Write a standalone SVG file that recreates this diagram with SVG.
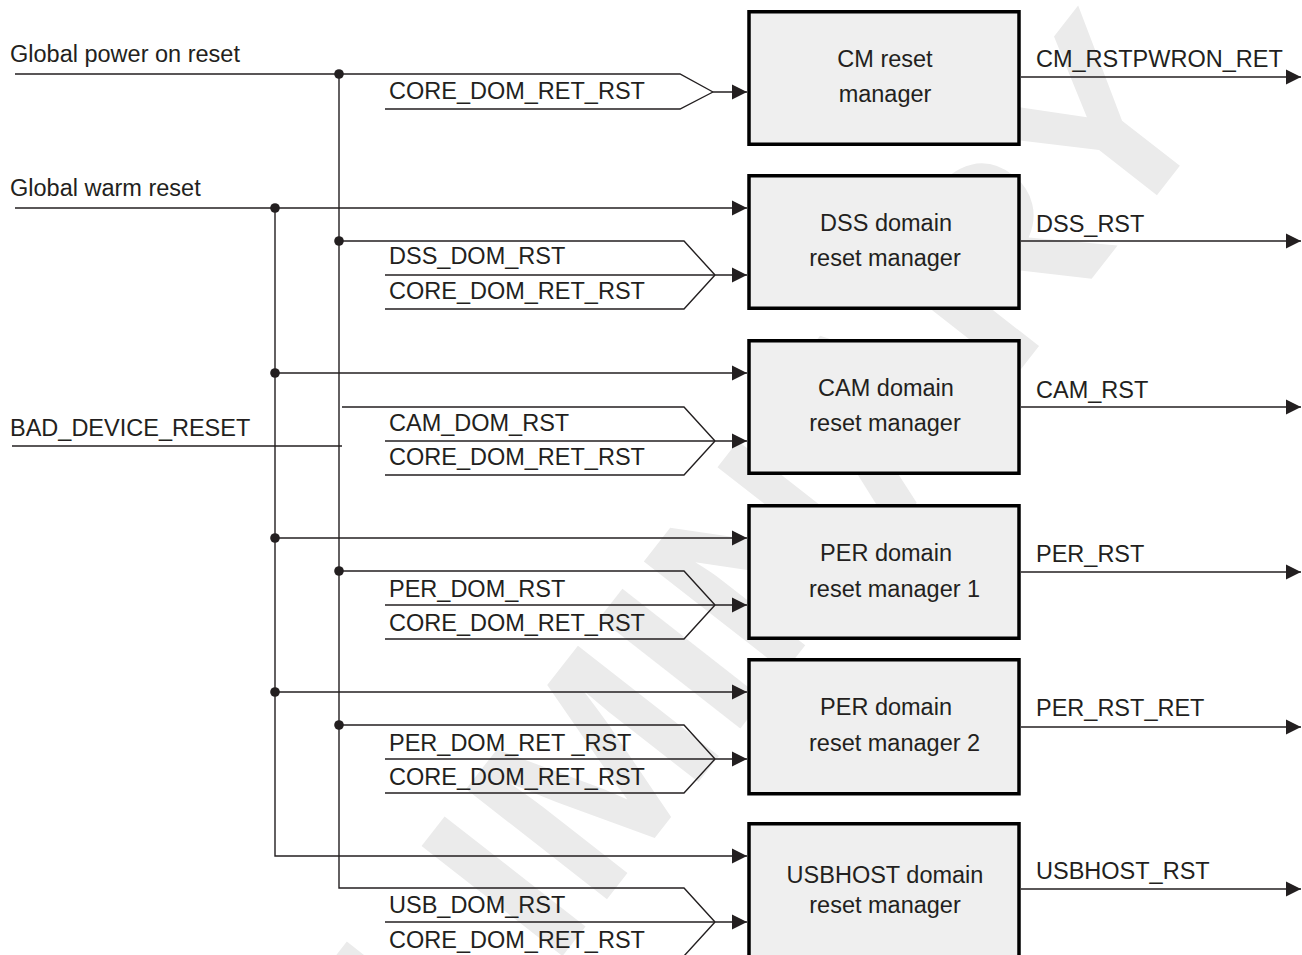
<svg xmlns="http://www.w3.org/2000/svg" width="1302" height="955" viewBox="0 0 1302 955">
<style>
text{font-family:"Liberation Sans",Arial,sans-serif;font-size:23.5px;fill:#231f20}
.c{text-anchor:middle}
.w{font-weight:bold;font-size:260px;fill:#ebebeb;text-anchor:middle}
.ln{fill:none;stroke:#231f20;stroke-width:1.4}
.ar{marker-end:url(#ah)}
.box{fill:#efefef;stroke:#000;stroke-width:3.5}
.dot{fill:#231f20}
</style>
<defs>
<marker id="ah" markerUnits="userSpaceOnUse" markerWidth="15" markerHeight="16" viewBox="0 0 15 16" refX="15" refY="8" orient="auto">
<path d="M0,0.5 L15,8 L0,15.5 z" fill="#231f20"/>
</marker>
</defs>
<rect width="1302" height="955" fill="#fff"/>
<g id="watermark">
<text class="w" transform="translate(600,757) rotate(-52)" x="0" y="93">PRELIMINARY</text>
</g>
<g id="connectors">
<polyline class="ln" points="15,74 680,74 713,92"/>
<polyline class="ln" points="385,109 680,109 713,92"/>
<line class="ln ar" x1="713" y1="92" x2="747" y2="92"/>
<polyline class="ln" points="339,74 339,888 684,888 715,922"/>
<line class="ln ar" x1="15" y1="208" x2="747" y2="208"/>
<polyline class="ln ar" points="275,208 275,856 747,856"/>
<line class="ln ar" x1="275" y1="373" x2="747" y2="373"/>
<line class="ln ar" x1="275" y1="538" x2="747" y2="538"/>
<line class="ln ar" x1="275" y1="692" x2="747" y2="692"/>
<polyline class="ln" points="339,241 684,241 715,275"/>
<polyline class="ln" points="385,309 684,309 715,275"/>
<line class="ln ar" x1="385" y1="275" x2="747" y2="275"/>
<polyline class="ln" points="342,407 684,407 715,441"/>
<polyline class="ln" points="385,475 684,475 715,441"/>
<line class="ln ar" x1="385" y1="441" x2="747" y2="441"/>
<line class="ln" x1="12" y1="446" x2="342" y2="446"/>
<polyline class="ln" points="339,571 684,571 715,605"/>
<polyline class="ln" points="385,639 684,639 715,605"/>
<line class="ln ar" x1="385" y1="605" x2="747" y2="605"/>
<polyline class="ln" points="339,725 684,725 715,759"/>
<polyline class="ln" points="385,793 684,793 715,759"/>
<line class="ln ar" x1="385" y1="759" x2="747" y2="759"/>
<polyline class="ln" points="385,956 684,956 715,922"/>
<line class="ln ar" x1="385" y1="922" x2="747" y2="922"/>
<line class="ln ar" x1="1021" y1="77" x2="1301" y2="77"/>
<line class="ln ar" x1="1021" y1="241" x2="1301" y2="241"/>
<line class="ln ar" x1="1021" y1="407" x2="1301" y2="407"/>
<line class="ln ar" x1="1021" y1="572" x2="1301" y2="572"/>
<line class="ln ar" x1="1021" y1="727" x2="1301" y2="727"/>
<line class="ln ar" x1="1021" y1="889" x2="1301" y2="889"/>
<circle class="dot" cx="339" cy="74" r="4.8"/>
<circle class="dot" cx="275" cy="208" r="4.8"/>
<circle class="dot" cx="339" cy="241" r="4.8"/>
<circle class="dot" cx="275" cy="373" r="4.8"/>
<circle class="dot" cx="275" cy="538" r="4.8"/>
<circle class="dot" cx="339" cy="571" r="4.8"/>
<circle class="dot" cx="275" cy="692" r="4.8"/>
<circle class="dot" cx="339" cy="725" r="4.8"/>
</g>
<g id="labels">
<text x="10" y="62">Global power on reset</text>
<text x="10" y="196">Global warm reset</text>
<text x="10" y="436">BAD_DEVICE_RESET</text>
<text x="389" y="99">CORE_DOM_RET_RST</text>
<text x="389" y="264">DSS_DOM_RST</text>
<text x="389" y="299">CORE_DOM_RET_RST</text>
<text x="389" y="431">CAM_DOM_RST</text>
<text x="389" y="465">CORE_DOM_RET_RST</text>
<text x="389" y="597">PER_DOM_RST</text>
<text x="389" y="631">CORE_DOM_RET_RST</text>
<text x="389" y="751">PER_DOM_RET _RST</text>
<text x="389" y="785">CORE_DOM_RET_RST</text>
<text x="389" y="913">USB_DOM_RST</text>
<text x="389" y="948">CORE_DOM_RET_RST</text>
<text x="1036" y="67">CM_RSTPWRON_RET</text>
<text x="1036" y="232">DSS_RST</text>
<text x="1036" y="398">CAM_RST</text>
<text x="1036" y="562">PER_RST</text>
<text x="1036" y="716">PER_RST_RET</text>
<text x="1036" y="879">USBHOST_RST</text>
</g>
<g id="cm">
<rect class="box" x="749" y="11.75" width="270" height="132.5"/>
<text class="c" x="885" y="67">CM reset</text>
<text class="c" x="885" y="102">manager</text>
</g>
<g id="dss">
<rect class="box" x="749" y="175.75" width="270" height="132.5"/>
<text class="c" x="886" y="231">DSS domain</text>
<text class="c" x="885" y="266">reset manager</text>
</g>
<g id="cam">
<rect class="box" x="749" y="340.75" width="270" height="132.5"/>
<text class="c" x="886" y="396">CAM domain</text>
<text class="c" x="885" y="431">reset manager</text>
</g>
<g id="per1">
<rect class="box" x="749" y="505.75" width="270" height="132.5"/>
<text class="c" x="886" y="561">PER domain</text>
<text x="809" y="597">reset manager 1</text>
</g>
<g id="per2">
<rect class="box" x="749" y="659.75" width="270" height="134"/>
<text class="c" x="886" y="715">PER domain</text>
<text x="809" y="751">reset manager 2</text>
</g>
<g id="usbhost">
<rect class="box" x="749" y="823.75" width="270" height="200"/>
<text class="c" x="885" y="883">USBHOST domain</text>
<text class="c" x="885" y="913">reset manager</text>
</g>
</svg>
